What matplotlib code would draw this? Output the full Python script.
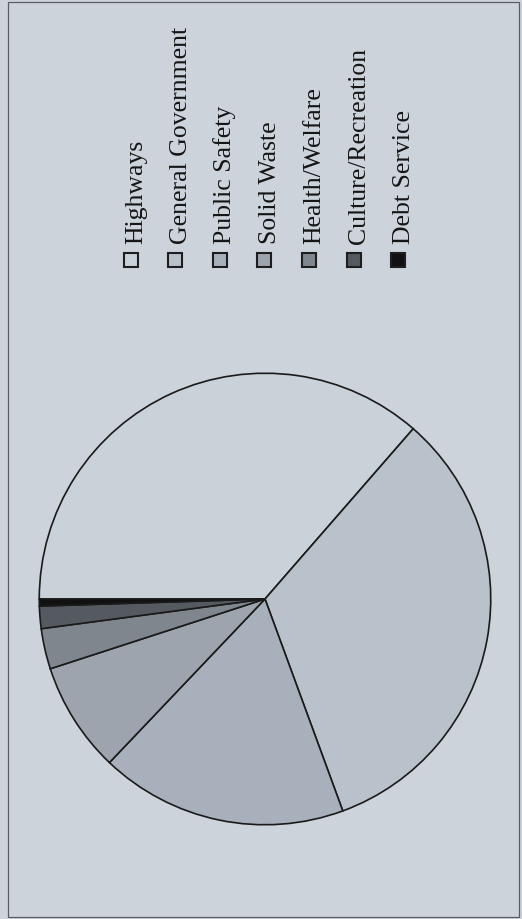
import matplotlib
matplotlib.use("Agg")
import matplotlib.pyplot as plt
from matplotlib.patches import Rectangle

categories = ["Highways", "General Government", "Public Safety", "Solid Waste",
              "Health/Welfare", "Culture/Recreation", "Debt Service"]
shares = [36.4, 33.0, 17.7, 7.9, 2.9, 1.6, 0.5]
colors = ["#c9d1d9", "#b9c2cb", "#a8b1bb", "#9da4ad", "#80868e", "#555a61", "#111111"]

W, H = 522, 920
BG = "#ccd3db"

fig = plt.figure(figsize=(W / 100, H / 100), dpi=100, facecolor=BG)


def px(x, y):
    # pixel coords (origin top-left) -> figure fraction
    return x / W, 1 - y / H


# outer frame
fig.patches.append(Rectangle(px(8, 918), (519 - 8) / W, (918 - 3) / H,
                             transform=fig.transFigure, fill=False,
                             edgecolor="#5a5d61", linewidth=0.9))

# pie, page is turned so the first slice starts at the left
cx, cy, r = 265, 600, 228
ax = fig.add_axes([(cx - r) / W, (H - cy - r) / H, 2 * r / W, 2 * r / H])
ax.pie(shares, colors=colors, startangle=180, counterclock=False,
       wedgeprops=dict(edgecolor="#1a1a1a", linewidth=1.2))
ax.set_xlim(-1.01, 1.01)
ax.set_ylim(-1.01, 1.01)
ax.set_aspect("equal")
ax.axis("off")

# legend drawn by hand, text rotated with the page
x0, step = 130.5, 44.6
for i, (name, col) in enumerate(zip(categories, colors)):
    x = x0 + i * step
    sq = 14
    fig.patches.append(Rectangle(px(x - sq / 2, 260.5 + sq / 2), sq / W, sq / H,
                                 transform=fig.transFigure, facecolor=col,
                                 edgecolor="#1e1e1e", linewidth=1.5))
    tx, ty = px(x + 11.5, 244)
    fig.text(tx, ty, name, rotation=90, rotation_mode="anchor",
             ha="left", va="baseline", fontsize=18.5,
             family="Liberation Serif", color="#151515")

fig.savefig("out.png", dpi=100, facecolor=BG)
